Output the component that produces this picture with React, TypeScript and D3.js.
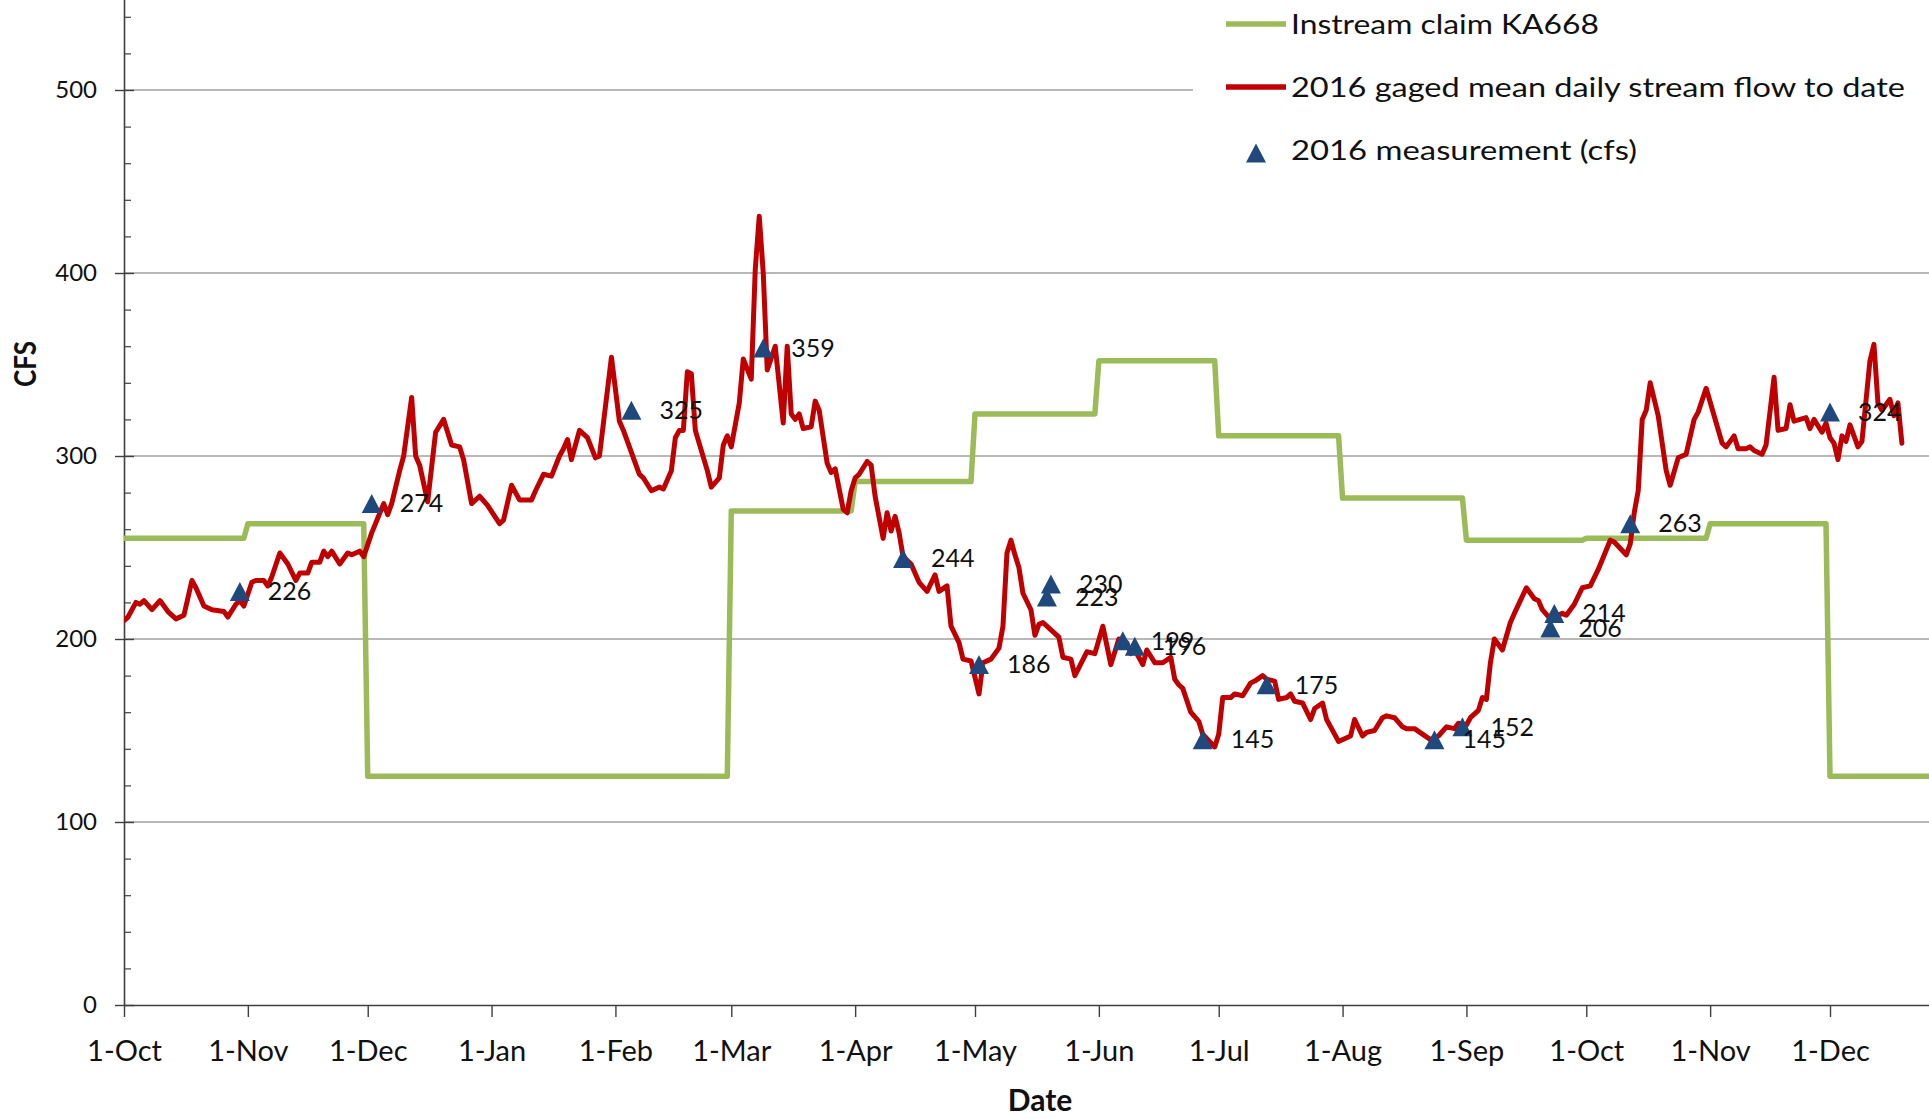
import React, { useEffect, useRef } from "react";
import * as d3 from "d3";

// ---------- data ----------
const xTickDates = [
  "2015-10-01", "2015-11-01", "2015-12-01", "2016-01-01", "2016-02-01", "2016-03-01", "2016-04-01",
  "2016-05-01", "2016-06-01", "2016-07-01", "2016-08-01", "2016-09-01", "2016-10-01", "2016-11-01", "2016-12-01",
];
const yTickValues = [0, 100, 200, 300, 400, 500];
const gridValues = [100, 200, 300, 400, 500];

// Instream claim KA668 (monthly)
const claimMonths = [
  "2015-10", "2015-11", "2015-12", "2016-01", "2016-02", "2016-03", "2016-04", "2016-05",
  "2016-06", "2016-07", "2016-08", "2016-09", "2016-10", "2016-11", "2016-12",
];
const claimValues = [255, 263, 125, 125, 125, 270, 286, 323, 352, 311, 277, 254, 255, 263, 125];

// 2016 gaged mean daily stream flow (vertices)
const flowSeries: [string, number][] = [
  ["2015-10-01", 210], ["2015-10-02", 212], ["2015-10-04", 220], ["2015-10-05", 219], ["2015-10-06", 221],
  ["2015-10-08", 216], ["2015-10-10", 221], ["2015-10-12", 215], ["2015-10-14", 211], ["2015-10-16", 213],
  ["2015-10-18", 232], ["2015-10-19", 228], ["2015-10-21", 218], ["2015-10-23", 216], ["2015-10-26", 215],
  ["2015-10-27", 212], ["2015-10-29", 219], ["2015-10-30", 221], ["2015-10-31", 218],
  ["2015-11-02", 231], ["2015-11-03", 232], ["2015-11-05", 232], ["2015-11-06", 229], ["2015-11-07", 234],
  ["2015-11-09", 247], ["2015-11-11", 241], ["2015-11-13", 232], ["2015-11-14", 236], ["2015-11-16", 236],
  ["2015-11-17", 242], ["2015-11-19", 242], ["2015-11-20", 248], ["2015-11-21", 245], ["2015-11-22", 248],
  ["2015-11-24", 241], ["2015-11-26", 247], ["2015-11-27", 246], ["2015-11-29", 248], ["2015-11-30", 245],
  ["2015-12-02", 258], ["2015-12-05", 274], ["2015-12-06", 268], ["2015-12-07", 274], ["2015-12-09", 292],
  ["2015-12-10", 300], ["2015-12-12", 332], ["2015-12-13", 300], ["2015-12-14", 295], ["2015-12-16", 275],
  ["2015-12-18", 313], ["2015-12-20", 320], ["2015-12-22", 306], ["2015-12-24", 305], ["2015-12-25", 298],
  ["2015-12-27", 274], ["2015-12-29", 278], ["2015-12-31", 273],
  ["2016-01-03", 263], ["2016-01-04", 265], ["2016-01-06", 284], ["2016-01-08", 276], ["2016-01-11", 276],
  ["2016-01-12", 281], ["2016-01-14", 290], ["2016-01-16", 289], ["2016-01-18", 300], ["2016-01-19", 304],
  ["2016-01-20", 309], ["2016-01-21", 298], ["2016-01-23", 314], ["2016-01-25", 310], ["2016-01-27", 299],
  ["2016-01-28", 300], ["2016-01-31", 354],
  ["2016-02-02", 319], ["2016-02-03", 314], ["2016-02-07", 290], ["2016-02-08", 288], ["2016-02-10", 281],
  ["2016-02-12", 283], ["2016-02-13", 282], ["2016-02-15", 292], ["2016-02-16", 310], ["2016-02-17", 314],
  ["2016-02-18", 314], ["2016-02-19", 346], ["2016-02-20", 345], ["2016-02-21", 314], ["2016-02-24", 292],
  ["2016-02-25", 283], ["2016-02-27", 288], ["2016-02-28", 306], ["2016-02-29", 311],
  ["2016-03-01", 305], ["2016-03-03", 329], ["2016-03-04", 353], ["2016-03-06", 342], ["2016-03-07", 402],
  ["2016-03-08", 431], ["2016-03-09", 400], ["2016-03-10", 347], ["2016-03-12", 360], ["2016-03-14", 318],
  ["2016-03-15", 360], ["2016-03-16", 323], ["2016-03-17", 320], ["2016-03-18", 323], ["2016-03-19", 315],
  ["2016-03-21", 316], ["2016-03-22", 330], ["2016-03-23", 325], ["2016-03-25", 296], ["2016-03-26", 291],
  ["2016-03-27", 293], ["2016-03-29", 271], ["2016-03-30", 269], ["2016-03-31", 281],
  ["2016-04-01", 288], ["2016-04-02", 290], ["2016-04-04", 297], ["2016-04-05", 295], ["2016-04-06", 278],
  ["2016-04-08", 255], ["2016-04-09", 269], ["2016-04-10", 259], ["2016-04-11", 267], ["2016-04-12", 258],
  ["2016-04-13", 245], ["2016-04-15", 241], ["2016-04-17", 231], ["2016-04-19", 226], ["2016-04-21", 235],
  ["2016-04-22", 226], ["2016-04-24", 229], ["2016-04-25", 207], ["2016-04-27", 198], ["2016-04-28", 189],
  ["2016-04-30", 188],
  ["2016-05-02", 170], ["2016-05-03", 187], ["2016-05-05", 189], ["2016-05-07", 195], ["2016-05-08", 207],
  ["2016-05-09", 247], ["2016-05-10", 254], ["2016-05-11", 246], ["2016-05-12", 239], ["2016-05-13", 225],
  ["2016-05-15", 216], ["2016-05-16", 202], ["2016-05-17", 208], ["2016-05-18", 209], ["2016-05-20", 205],
  ["2016-05-22", 201], ["2016-05-23", 190], ["2016-05-25", 189], ["2016-05-26", 180], ["2016-05-29", 193],
  ["2016-05-31", 192],
  ["2016-06-02", 207], ["2016-06-04", 186], ["2016-06-06", 200], ["2016-06-08", 198], ["2016-06-09", 192],
  ["2016-06-10", 194], ["2016-06-12", 186], ["2016-06-13", 194], ["2016-06-15", 187], ["2016-06-17", 187],
  ["2016-06-19", 190], ["2016-06-20", 178], ["2016-06-21", 175], ["2016-06-22", 173], ["2016-06-24", 160],
  ["2016-06-26", 155], ["2016-06-27", 148], ["2016-06-30", 141],
  ["2016-07-01", 148], ["2016-07-02", 168], ["2016-07-04", 168], ["2016-07-05", 170], ["2016-07-07", 169],
  ["2016-07-09", 176], ["2016-07-10", 177], ["2016-07-12", 180], ["2016-07-13", 178], ["2016-07-15", 177],
  ["2016-07-16", 167], ["2016-07-18", 168], ["2016-07-19", 170], ["2016-07-20", 166], ["2016-07-22", 165],
  ["2016-07-24", 156], ["2016-07-25", 162], ["2016-07-27", 165], ["2016-07-28", 156], ["2016-07-30", 148],
  ["2016-07-31", 144],
  ["2016-08-03", 147], ["2016-08-04", 156], ["2016-08-06", 147], ["2016-08-07", 149], ["2016-08-09", 150],
  ["2016-08-11", 157], ["2016-08-12", 158], ["2016-08-14", 157], ["2016-08-16", 152], ["2016-08-17", 151],
  ["2016-08-19", 151], ["2016-08-21", 148], ["2016-08-23", 145], ["2016-08-25", 147], ["2016-08-27", 152],
  ["2016-08-29", 151], ["2016-08-30", 154],
  ["2016-09-01", 153], ["2016-09-02", 157], ["2016-09-04", 161], ["2016-09-05", 168], ["2016-09-06", 167],
  ["2016-09-07", 187], ["2016-09-08", 200], ["2016-09-10", 194], ["2016-09-12", 209], ["2016-09-13", 214],
  ["2016-09-16", 228], ["2016-09-18", 222], ["2016-09-19", 221], ["2016-09-20", 216], ["2016-09-22", 211],
  ["2016-09-23", 212], ["2016-09-25", 214], ["2016-09-26", 213], ["2016-09-28", 219], ["2016-09-30", 228],
  ["2016-10-02", 229], ["2016-10-04", 238], ["2016-10-07", 254], ["2016-10-08", 253], ["2016-10-11", 246],
  ["2016-10-12", 252], ["2016-10-13", 269], ["2016-10-14", 281], ["2016-10-15", 320], ["2016-10-16", 325],
  ["2016-10-17", 340], ["2016-10-19", 322], ["2016-10-21", 292], ["2016-10-22", 284], ["2016-10-24", 299],
  ["2016-10-26", 301], ["2016-10-28", 320], ["2016-10-29", 324], ["2016-10-31", 337],
  ["2016-11-02", 322], ["2016-11-04", 307], ["2016-11-05", 305], ["2016-11-07", 311], ["2016-11-08", 304],
  ["2016-11-10", 304], ["2016-11-11", 305], ["2016-11-12", 303], ["2016-11-14", 301], ["2016-11-15", 306],
  ["2016-11-17", 343], ["2016-11-18", 314], ["2016-11-20", 315], ["2016-11-21", 328], ["2016-11-22", 319],
  ["2016-11-25", 321], ["2016-11-26", 315], ["2016-11-27", 320], ["2016-11-29", 313], ["2016-11-30", 318],
  ["2016-12-01", 310], ["2016-12-02", 307], ["2016-12-03", 298], ["2016-12-04", 311], ["2016-12-05", 308],
  ["2016-12-06", 317], ["2016-12-08", 305], ["2016-12-09", 308], ["2016-12-11", 352], ["2016-12-12", 361],
  ["2016-12-13", 329], ["2016-12-14", 325], ["2016-12-16", 331], ["2016-12-17", 322], ["2016-12-18", 329],
  ["2016-12-19", 307],
];

// 2016 measurements (cfs)
const measureDates = [
  "2015-10-30", "2015-12-02", "2016-02-05", "2016-03-09", "2016-04-13", "2016-05-02", "2016-05-19",
  "2016-05-20", "2016-06-07", "2016-06-10", "2016-06-27", "2016-07-13", "2016-08-24", "2016-08-31",
  "2016-09-22", "2016-09-23", "2016-10-12", "2016-12-01",
];
const measureValues = [226, 274, 325, 359, 244, 186, 223, 230, 199, 196, 145, 175, 145, 152, 206, 214, 263, 324];

const legendLabels = [
  "Instream claim KA668",
  "2016 gaged mean daily stream flow to date",
  "2016 measurement (cfs)",
];
const xTitle = "Date";
const yTitle = "CFS";

// ---------- style / layout ----------
const W = 1929;
const H = 1118;
const LEFT = 124;
const BOTTOM = 1005;
const FONT = "Lato, 'Open Sans', sans-serif";
const TEXT = "#111";
const AXIS = "#3f3f3f";
const GRID = "#a0a0a0";
const GREEN = "#9BBB59";
const RED = "#C00000";
const BLUE = "#1F497D";

const parse = d3.utcParse("%Y-%m-%d");

const x = d3.scaleUtc().domain([parse("2015-10-01")!, parse("2016-12-01")!]).range([LEFT, 1830]);
const y = d3.scaleLinear().domain([0, 500]).range([BOTTOM, 90]);
const xAxisScale = x.copy().domain([x.domain()[0], x.invert(W)]).range([LEFT, W]);
const yAxisScale = y.copy().domain([0, 550]).range([BOTTOM, y(550)]);

const claimPoints: [Date, number][] = [];
claimMonths.forEach((m, i) => {
  const start = parse(m + "-01")!;
  const end = d3.utcDay.offset(d3.utcMonth.offset(start, 1), -1);
  claimPoints.push([start, claimValues[i]], [end, claimValues[i]]);
});
const flowPoints: [Date, number][] = flowSeries.map(([d, v]) => [parse(d)!, v]);

const line = d3
  .line<[Date, number]>()
  .x((d) => x(d[0]))
  .y((d) => y(d[1]));

const tri = (cx: number, cy: number, hw = 10, hh = 9.5) =>
  `M${cx},${cy - hh}L${cx + hw},${cy + hh}L${cx - hw},${cy + hh}Z`;

export default function App() {
  const xAxisRef = useRef<SVGGElement>(null);
  const yAxisRef = useRef<SVGGElement>(null);
  const yMinorRef = useRef<SVGGElement>(null);

  useEffect(() => {
    document.body.style.margin = "0";
    document.body.style.overflow = "hidden";

    const gx = d3.select(xAxisRef.current!);
    gx.call(
      d3
        .axisBottom(xAxisScale)
        .tickValues(xTickDates.map((d) => parse(d)!))
        .tickFormat((d) => d3.utcFormat("%-d-%b")(d as Date))
        .tickSizeInner(12)
        .tickSizeOuter(0)
        .tickPadding(23) as any
    );
    gx.select(".domain").attr("stroke", AXIS).attr("stroke-width", 1.6);
    gx.selectAll(".tick line").attr("stroke", AXIS).attr("stroke-width", 1.4);
    gx.selectAll(".tick text").attr("font-family", FONT).attr("font-size", 29).attr("fill", TEXT);

    const gy = d3.select(yAxisRef.current!);
    gy.call(
      d3.axisLeft(yAxisScale).tickValues(yTickValues).tickSizeInner(9).tickSizeOuter(0).tickPadding(18) as any
    );
    gy.select(".domain").attr("stroke", AXIS).attr("stroke-width", 1.6);
    gy.selectAll(".tick line").attr("stroke", AXIS).attr("stroke-width", 1.4).attr("x1", 10);
    gy.selectAll(".tick text").attr("font-family", FONT).attr("font-size", 24).attr("fill", TEXT);

    const minorVals = d3.range(20, 550, 20).filter((v) => v % 100 !== 0);
    const gm = d3.select(yMinorRef.current!);
    gm.call(
      d3.axisLeft(yAxisScale).tickValues(minorVals).tickSizeInner(-7).tickSizeOuter(0).tickFormat(() => "") as any
    );
    gm.select(".domain").remove();
    gm.selectAll(".tick line").attr("stroke", AXIS).attr("stroke-width", 1.2);
  }, []);

  return (
    <svg
      width={W}
      height={H}
      style={{ position: "absolute", left: 0, top: 0, background: "#fff", display: "block" }}
    >
      <defs>
        <clipPath id="plot">
          <rect x={LEFT} y={-5} width={W - LEFT} height={BOTTOM + 5} />
        </clipPath>
      </defs>
      <rect x={0} y={0} width={W} height={H} fill="#fff" />

      {gridValues.map((v) => (
        <line key={v} x1={LEFT} x2={W} y1={y(v)} y2={y(v)} stroke={GRID} strokeWidth={1.4} />
      ))}

      <g ref={yMinorRef} transform={`translate(${LEFT},0)`} />
      <g ref={yAxisRef} transform={`translate(${LEFT},0)`} />
      <g ref={xAxisRef} transform={`translate(0,${BOTTOM})`} />

      <g clipPath="url(#plot)">
        <path d={line(claimPoints) || ""} fill="none" stroke={GREEN} strokeWidth={5.5} strokeLinejoin="round" />
        <path d={line(flowPoints) || ""} fill="none" stroke={RED} strokeWidth={5} strokeLinejoin="round" strokeLinecap="round" />
      </g>

      {measureDates.map((d, i) => (
        <path key={"m" + i} d={tri(x(parse(d)!), y(measureValues[i]))} fill={BLUE} />
      ))}
      {measureDates.map((d, i) => (
        <text
          key={"l" + i}
          x={x(parse(d)!) + 28}
          y={y(measureValues[i])}
          dy="0.35em"
          fontFamily={FONT}
          fontSize={25}
          fill={TEXT}
        >
          {measureValues[i]}
        </text>
      ))}

      {/* legend */}
      <rect x={1193} y={0} width={W - 1193} height={185} fill="#fff" />
      <line x1={1226} x2={1286} y1={24} y2={24} stroke={GREEN} strokeWidth={5.5} />
      <line x1={1226} x2={1286} y1={87} y2={87} stroke={RED} strokeWidth={5.5} />
      <path d={tri(1256, 153)} fill={BLUE} />
      {legendLabels.map((t, i) => (
        <text
          key={t}
          x={1291}
          y={[34, 97, 160][i]}
          fontFamily={FONT}
          fontSize={26}
          fill={TEXT}
          textLength={[308, 614, 346][i]}
          lengthAdjust="spacingAndGlyphs"
        >
          {t}
        </text>
      ))}

      {/* axis titles */}
      <text x={1040} y={1111} textAnchor="middle" fontFamily={FONT} fontWeight="bold" fontSize={30} fill={TEXT}>
        {xTitle}
      </text>
      <text
        transform="translate(36,364) rotate(-90)"
        textAnchor="middle"
        fontFamily={FONT}
        fontWeight="bold"
        fontSize={30}
        fill={TEXT}
        textLength={46}
        lengthAdjust="spacingAndGlyphs"
      >
        {yTitle}
      </text>
    </svg>
  );
}
